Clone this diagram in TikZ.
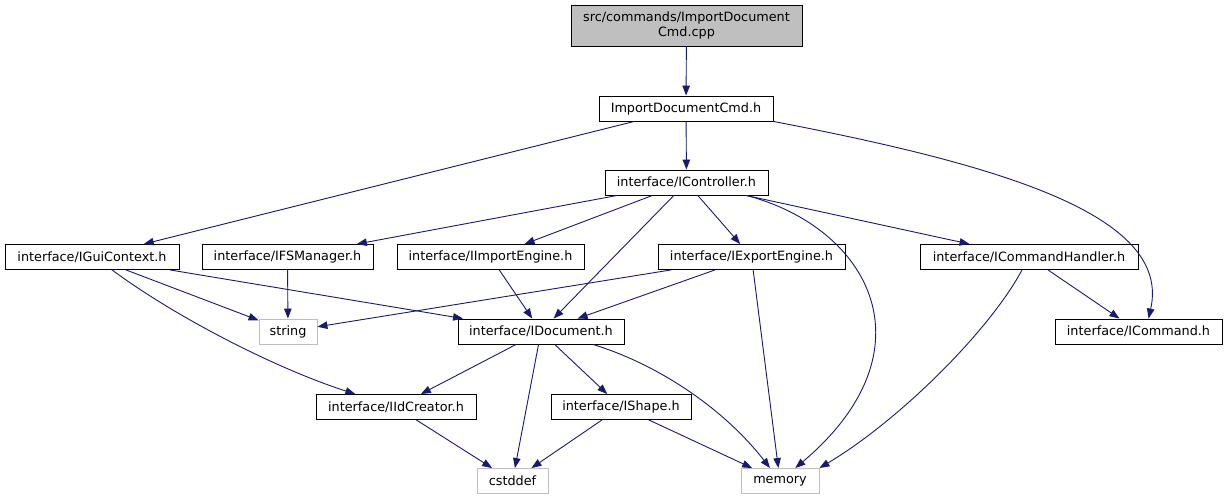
\documentclass[tikz,border=0pt]{standalone}
\usepackage{fontspec}
\setmainfont{DejaVu Sans}
\usepackage{xcolor}
\usetikzlibrary{arrows.meta}
\definecolor{edgecolor}{HTML}{191970}
\definecolor{syscolor}{HTML}{BFBFBF}

\begin{document}
\begin{tikzpicture}[
    x=1pt, y=-1pt,
    every node/.style={rectangle, draw, fill=white,
                       minimum height=25pt, inner sep=0pt,
                       align=center, line width=0.9pt,
                       font=\fontsize{12.8}{15}\selectfont},
    sys/.style={draw=syscolor},
    dep/.style={draw=edgecolor, line width=0.9pt,
                -{Triangle[length=10pt,width=7.5pt]}}
]
\useasboundingbox (0,0) rectangle (1227,500);

% headers
\node[fill=syscolor, minimum width=231pt, minimum height=41pt] (cpp) at (686.5,25.5) {src/commands/ImportDocument\\Cmd.cpp};
\node[minimum width=174pt] (cmdhdr) at (686,108.5) {ImportDocumentCmd.h};
\node[minimum width=163pt] (ctrl) at (686.5,182.5) {interface/IController.h};
\node[minimum width=174pt] (gui) at (92,257) {interface/IGuiContext.h};
\node[minimum width=171pt] (fsm) at (287.5,257) {interface/IFSManager.h};
\node[minimum width=187pt] (imp) at (490.5,257) {interface/IImportEngine.h};
\node[minimum width=187pt] (exp) at (751.5,257) {interface/IExportEngine.h};
\node[minimum width=218pt] (handler) at (1029,257) {interface/ICommandHandler.h};
\node[minimum width=166pt] (doc) at (541,331.5) {interface/IDocument.h};
\node[minimum width=167pt] (cmd) at (1138.5,331.5) {interface/ICommand.h};
\node[minimum width=160pt] (idc) at (396,407) {interface/IIdCreator.h};
\node[minimum width=140pt] (shape) at (621,407) {interface/IShape.h};

% system headers
\node[sys, minimum width=58pt] (string) at (288,331.5) {string};
\node[sys, minimum width=71pt] (cstddef) at (512.5,481) {cstddef};
\node[sys, minimum width=78pt] (memory) at (780,481) {memory};

% includes
\draw[dep] (cpp) -- (cmdhdr);
\draw[dep] (cmdhdr) -- (ctrl);
\draw[dep] (cmdhdr) -- (gui);
\draw[dep] (cmdhdr.south east) .. controls (1000,165) and (1172,215) .. ([xshift=10pt]cmd.north);

\draw[dep] (ctrl) -- (fsm);
\draw[dep] (ctrl) -- (imp);
\draw[dep] (ctrl) -- (doc);
\draw[dep] (ctrl) -- (exp);
\draw[dep] (ctrl) -- (handler);
\draw[dep] ([xshift=60pt]ctrl.south) .. controls (870,228) and (935,350) .. (memory);

\draw[dep] (gui) -- (string);
\draw[dep] (gui) -- (doc);
\draw[dep] ([xshift=20pt]gui.south) .. controls (180,320) and (280,370) .. (idc);
\draw[dep] (fsm) -- (string);
\draw[dep] (imp) -- (doc);
\draw[dep] (exp) -- (string);
\draw[dep] (exp) -- (doc);
\draw[dep] (exp) -- (memory);
\draw[dep] (handler) -- (cmd);
\draw[dep] ([xshift=-7pt]handler.south) .. controls (990,330) and (900,420) .. (memory.north east);

\draw[dep] (doc) -- (idc);
\draw[dep] (doc) -- (cstddef);
\draw[dep] (doc) -- (shape);
\draw[dep] ([xshift=52pt]doc.south) .. controls (660,365) and (725,410) .. (memory);
\draw[dep] (idc) -- (cstddef);
\draw[dep] (shape) -- (cstddef);
\draw[dep] (shape) -- (memory);
\end{tikzpicture}
\end{document}
